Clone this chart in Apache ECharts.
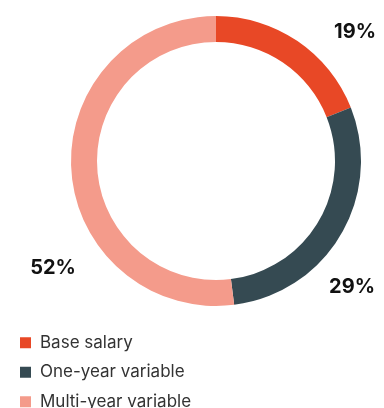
<!DOCTYPE html>
<html>
<head>
<meta charset="utf-8">
<script src="https://cdn.jsdelivr.net/npm/echarts@6/dist/echarts.min.js"></script>
<style>
  html, body { margin: 0; padding: 0; background: #fff; }
  #chart { width: 384px; height: 408px; }
</style>
</head>
<body>
<div id="chart"></div>
<script>
// Pay mix shares (percent)
const categories = ['Base salary', 'One-year variable', 'Multi-year variable'];
const shares = [19, 29, 52];

// Slice colours and label anchor points (layout only)
const sliceColors = ['#E84826', '#354A52', '#F49B8B'];
const labelAnchors = [[355, 32], [352, 287], [53, 268]];

const chart = echarts.init(document.getElementById('chart'), null, { renderer: 'canvas' });

chart.setOption({
  animation: false,
  color: sliceColors,
  legend: {
    orient: 'vertical',
    left: 15,
    top: 329,
    height: 120,
    itemWidth: 11,
    itemHeight: 11,
    itemGap: 12,
    icon: 'rect',
    textStyle: {
      fontFamily: 'Inter',
      fontSize: 17,
      color: '#333',
      lineHeight: 17.5,
      padding: [0, 0, 0, 4]
    },
    data: categories
  },
  series: [{
    type: 'pie',
    center: [216, 161],
    radius: [119, 145],
    startAngle: 90,
    clockwise: true,
    avoidLabelOverlap: false,
    itemStyle: { borderWidth: 0 },
    emphasis: { disabled: true },
    label: {
      show: true,
      position: 'outside',
      formatter: p => p.value + '%',
      fontFamily: 'Inter',
      fontWeight: 'bold',
      fontSize: 20,
      color: '#111'
    },
    labelLine: { show: false },
    labelLayout: params => {
      const a = labelAnchors[params.dataIndex];
      return { x: a[0], y: a[1], align: 'center', verticalAlign: 'middle' };
    },
    data: categories.map((name, i) => ({ name: name, value: shares[i] }))
  }]
});
</script>
</body>
</html>
